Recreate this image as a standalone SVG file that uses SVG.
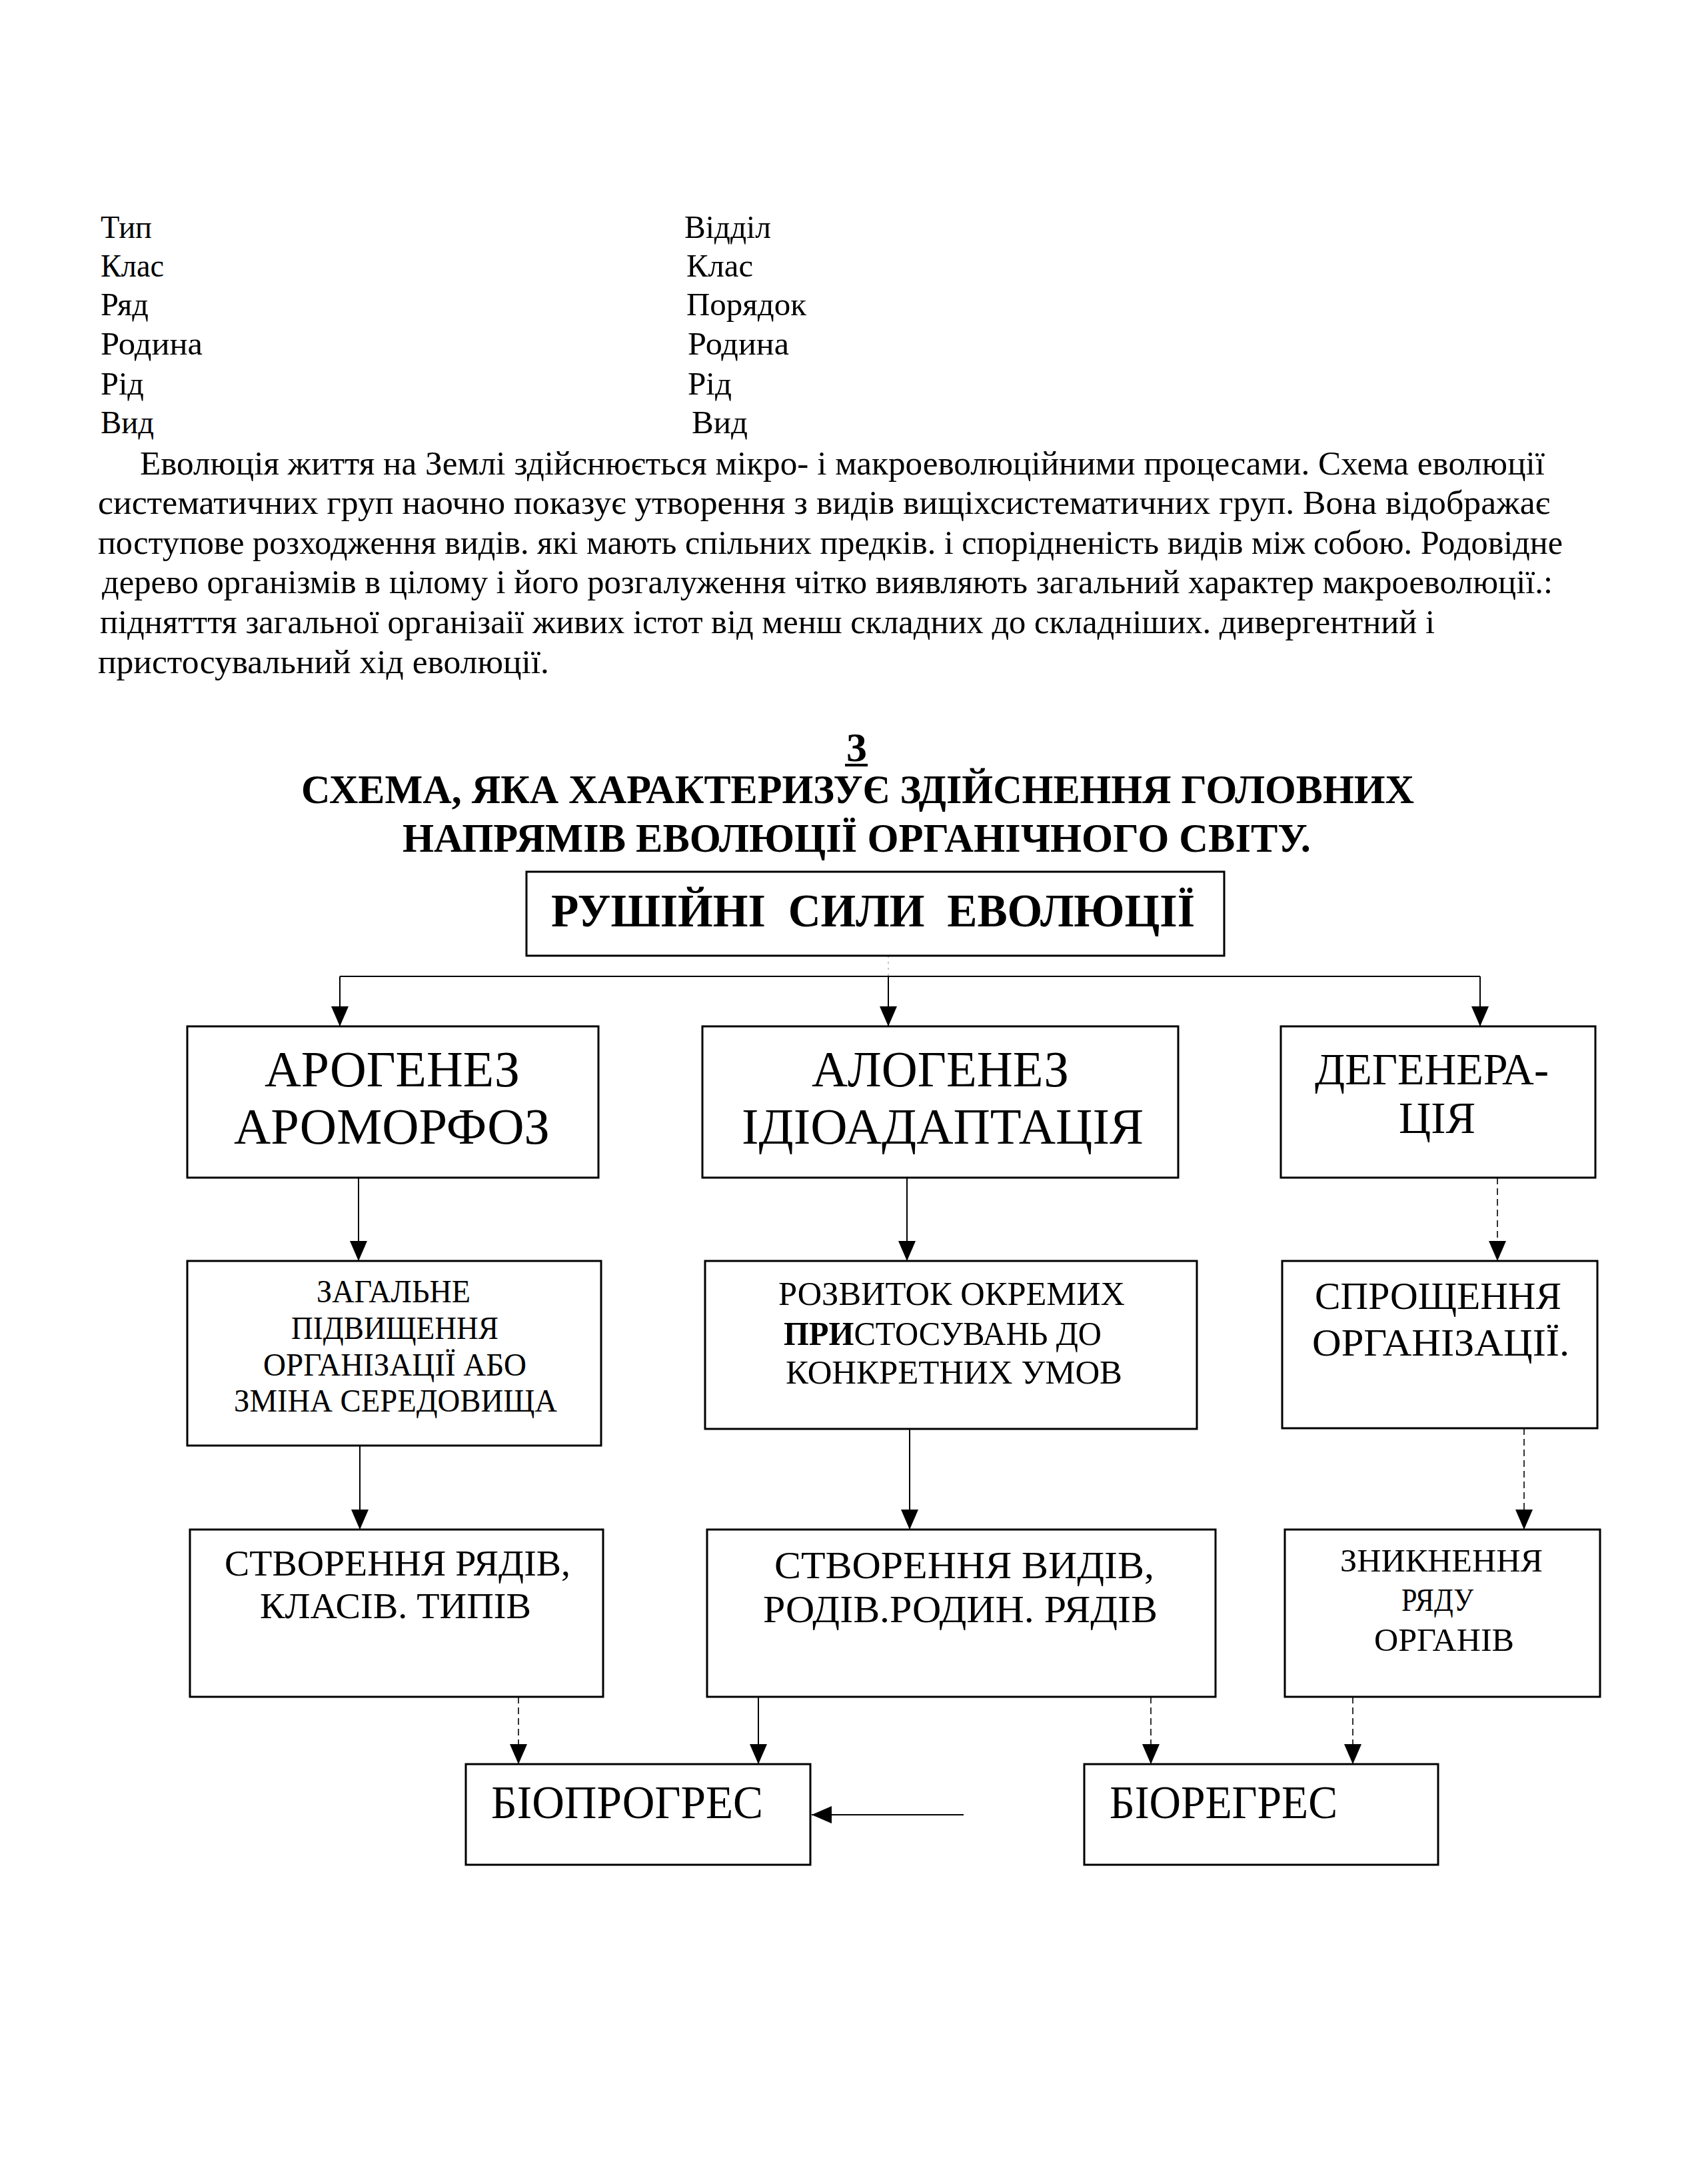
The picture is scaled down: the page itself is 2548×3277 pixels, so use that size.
<svg xmlns="http://www.w3.org/2000/svg" width="2548" height="3277" viewBox="0 0 2548 3277">
<style>
text{font-family:"Liberation Serif","Times New Roman",serif;fill:#000}
.t{font-size:49px}
.p{font-size:51px}
.h{font-size:61px;font-weight:bold}
.box{fill:#fff;stroke:#000;stroke-width:3}
.c{stroke:#000;stroke-width:2;fill:none}
.f{stroke:#000;stroke-width:1.6;fill:none;stroke-dasharray:10 6}
</style>
<defs>
<marker id="ah" markerUnits="userSpaceOnUse" markerWidth="30" markerHeight="26" refX="30" refY="13" orient="auto">
<path d="M0,0 L30,13 L0,26 z" fill="#000"/>
</marker>
</defs>
<rect width="2548" height="3277" fill="#fff"/>

<g id="ranks">
<text class="t" x="151" y="357" textLength="77" lengthAdjust="spacingAndGlyphs">Тип</text>
<text class="t" x="151" y="415" textLength="95" lengthAdjust="spacingAndGlyphs">Клас</text>
<text class="t" x="151" y="473" textLength="72" lengthAdjust="spacingAndGlyphs">Ряд</text>
<text class="t" x="151" y="532" textLength="153" lengthAdjust="spacingAndGlyphs">Родина</text>
<text class="t" x="151" y="592" textLength="65" lengthAdjust="spacingAndGlyphs">Рід</text>
<text class="t" x="151" y="650" textLength="80" lengthAdjust="spacingAndGlyphs">Вид</text>
<text class="t" x="1027" y="357" textLength="130" lengthAdjust="spacingAndGlyphs">Відділ</text>
<text class="t" x="1030" y="415" textLength="100" lengthAdjust="spacingAndGlyphs">Клас</text>
<text class="t" x="1030" y="473" textLength="180" lengthAdjust="spacingAndGlyphs">Порядок</text>
<text class="t" x="1032" y="532" textLength="152" lengthAdjust="spacingAndGlyphs">Родина</text>
<text class="t" x="1032" y="592" textLength="66" lengthAdjust="spacingAndGlyphs">Рід</text>
<text class="t" x="1038" y="650" textLength="84" lengthAdjust="spacingAndGlyphs">Вид</text>
</g>

<g id="paragraph">
<text class="p" x="210" y="712" textLength="2108" lengthAdjust="spacingAndGlyphs">Еволюція життя на Землі здійснюється мікро- і макроеволюційними процесами. Схема еволюції</text>
<text class="p" x="147" y="771" textLength="2179" lengthAdjust="spacingAndGlyphs">систематичних груп наочно показує утворення з видів вищіхсистематичних груп. Вона відображає</text>
<text class="p" x="147" y="831" textLength="2198" lengthAdjust="spacingAndGlyphs">поступове розходження видів. які мають спільних предків. і спорідненість видів між собою. Родовідне</text>
<text class="p" x="153" y="890" textLength="2177" lengthAdjust="spacingAndGlyphs">дерево організмів в цілому і його розгалуження чітко виявляють загальний характер макроеволюції.:</text>
<text class="p" x="150" y="950" textLength="2003" lengthAdjust="spacingAndGlyphs">піднятття загальної організаії живих істот від менш складних до складніших. дивергентний і</text>
<text class="p" x="147" y="1010" textLength="677" lengthAdjust="spacingAndGlyphs">пристосувальний хід еволюції.</text>
</g>

<g id="title">
<text class="h" x="1270" y="1142" textLength="31" lengthAdjust="spacingAndGlyphs">3</text>
<rect x="1268" y="1146" width="34" height="4" fill="#000"/>
<text class="h" x="452" y="1205" textLength="1670" lengthAdjust="spacingAndGlyphs">СХЕМА, ЯКА ХАРАКТЕРИЗУЄ ЗДІЙСНЕННЯ ГОЛОВНИХ</text>
<text class="h" x="604" y="1278" textLength="1363" lengthAdjust="spacingAndGlyphs">НАПРЯМІВ ЕВОЛЮЦІЇ ОРГАНІЧНОГО СВІТУ.</text>
</g>

<g id="connectors">
<line x1="1333" y1="1434" x2="1333" y2="1465" stroke="#888" stroke-width="1" stroke-dasharray="3 6"/>
<line class="c" x1="510" y1="1465" x2="2221" y2="1465" stroke-width="3"/>
<line class="c" x1="510" y1="1465" x2="510" y2="1540" marker-end="url(#ah)"/>
<line class="c" x1="1333" y1="1465" x2="1333" y2="1540" marker-end="url(#ah)"/>
<line class="c" x1="2221" y1="1465" x2="2221" y2="1540" marker-end="url(#ah)"/>
<line class="c" x1="538" y1="1767" x2="538" y2="1892" marker-end="url(#ah)"/>
<line class="c" x1="1361" y1="1767" x2="1361" y2="1892" marker-end="url(#ah)"/>
<line class="f" x1="2247" y1="1767" x2="2247" y2="1892" marker-end="url(#ah)"/>
<line class="c" x1="540" y1="2169" x2="540" y2="2295" marker-end="url(#ah)"/>
<line class="c" x1="1365" y1="2144" x2="1365" y2="2295" marker-end="url(#ah)"/>
<line class="f" x1="2287" y1="2143" x2="2287" y2="2295" marker-end="url(#ah)"/>
<line class="f" x1="778" y1="2546" x2="778" y2="2647" marker-end="url(#ah)"/>
<line class="c" x1="1138" y1="2546" x2="1138" y2="2647" marker-end="url(#ah)"/>
<line class="f" x1="1727" y1="2546" x2="1727" y2="2647" marker-end="url(#ah)"/>
<line class="f" x1="2030" y1="2546" x2="2030" y2="2647" marker-end="url(#ah)"/>
<line class="c" x1="1446" y1="2723" x2="1218" y2="2723" stroke-width="3" marker-end="url(#ah)"/>
</g>

<g id="driving-forces">
<rect class="box" x="790" y="1308" width="1047" height="126"/>
<text x="827" y="1390" font-size="70" font-weight="bold" textLength="966" lengthAdjust="spacingAndGlyphs" xml:space="preserve">РУШІЙНІ  СИЛИ  ЕВОЛЮЦІЇ</text>
</g>

<g id="arogenez">
<rect class="box" x="281" y="1540" width="617" height="227"/>
<text x="397" y="1630" font-size="76" textLength="383" lengthAdjust="spacingAndGlyphs">АРОГЕНЕЗ</text>
<text x="351" y="1716" font-size="76" textLength="474" lengthAdjust="spacingAndGlyphs">АРОМОРФОЗ</text>
</g>

<g id="alogenez">
<rect class="box" x="1054" y="1540" width="714" height="227"/>
<text x="1218" y="1630" font-size="76" textLength="386" lengthAdjust="spacingAndGlyphs">АЛОГЕНЕЗ</text>
<text x="1113" y="1716" font-size="76" textLength="603" lengthAdjust="spacingAndGlyphs">ІДІОАДАПТАЦІЯ</text>
</g>

<g id="degeneration">
<rect class="box" x="1922" y="1540" width="472" height="227"/>
<text x="1973" y="1627" font-size="68" textLength="351" lengthAdjust="spacingAndGlyphs">ДЕГЕНЕРА-</text>
<text x="2099" y="1700" font-size="68" textLength="115" lengthAdjust="spacingAndGlyphs">ЦІЯ</text>
</g>

<g id="general-rise">
<rect class="box" x="281" y="1892" width="621" height="277"/>
<text x="475" y="1954" font-size="48" textLength="231" lengthAdjust="spacingAndGlyphs">ЗАГАЛЬНЕ</text>
<text x="437" y="2009" font-size="48" textLength="311" lengthAdjust="spacingAndGlyphs">ПІДВИЩЕННЯ</text>
<text x="395" y="2064" font-size="48" textLength="395" lengthAdjust="spacingAndGlyphs">ОРГАНІЗАЦІЇ АБО</text>
<text x="351" y="2118" font-size="48" textLength="485" lengthAdjust="spacingAndGlyphs">ЗМІНА СЕРЕДОВИЩА</text>
</g>

<g id="adaptations">
<rect class="box" x="1058" y="1892" width="738" height="252"/>
<text x="1168" y="1958" font-size="51" textLength="520" lengthAdjust="spacingAndGlyphs">РОЗВИТОК ОКРЕМИХ</text>
<text x="1176" y="2018" font-size="51" textLength="477" lengthAdjust="spacingAndGlyphs"><tspan font-weight="bold">ПРИ</tspan>СТОСУВАНЬ ДО</text>
<text x="1179" y="2076" font-size="51" textLength="505" lengthAdjust="spacingAndGlyphs">КОНКРЕТНИХ УМОВ</text>
</g>

<g id="simplification">
<rect class="box" x="1924" y="1892" width="473" height="251"/>
<text x="1973" y="1964" font-size="58" textLength="370" lengthAdjust="spacingAndGlyphs">СПРОЩЕННЯ</text>
<text x="1969" y="2034" font-size="58" textLength="386" lengthAdjust="spacingAndGlyphs">ОРГАНІЗАЦІЇ.</text>
</g>

<g id="orders-classes">
<rect class="box" x="285" y="2295" width="620" height="251"/>
<text x="337" y="2364" font-size="55" textLength="519" lengthAdjust="spacingAndGlyphs">СТВОРЕННЯ РЯДІВ,</text>
<text x="390" y="2428" font-size="55" textLength="407" lengthAdjust="spacingAndGlyphs">КЛАСІВ. ТИПІВ</text>
</g>

<g id="species-genera">
<rect class="box" x="1061" y="2295" width="763" height="251"/>
<text x="1162" y="2368" font-size="57" textLength="570" lengthAdjust="spacingAndGlyphs">СТВОРЕННЯ ВИДІВ,</text>
<text x="1145" y="2434" font-size="57" textLength="592" lengthAdjust="spacingAndGlyphs">РОДІВ.РОДИН. РЯДІВ</text>
</g>

<g id="organ-loss">
<rect class="box" x="1928" y="2295" width="473" height="251"/>
<text x="2011" y="2358" font-size="48" textLength="304" lengthAdjust="spacingAndGlyphs">ЗНИКНЕННЯ</text>
<text x="2103" y="2417" font-size="48" textLength="108" lengthAdjust="spacingAndGlyphs">РЯДУ</text>
<text x="2062" y="2477" font-size="48" textLength="210" lengthAdjust="spacingAndGlyphs">ОРГАНІВ</text>
</g>

<g id="bioprogress">
<rect class="box" x="699" y="2647" width="517" height="151"/>
<text x="737" y="2728" font-size="70" textLength="408" lengthAdjust="spacingAndGlyphs">БІОПРОГРЕС</text>
</g>

<g id="bioregress">
<rect class="box" x="1627" y="2647" width="531" height="151"/>
<text x="1665" y="2728" font-size="70" textLength="342" lengthAdjust="spacingAndGlyphs">БІОРЕГРЕС</text>
</g>
</svg>
